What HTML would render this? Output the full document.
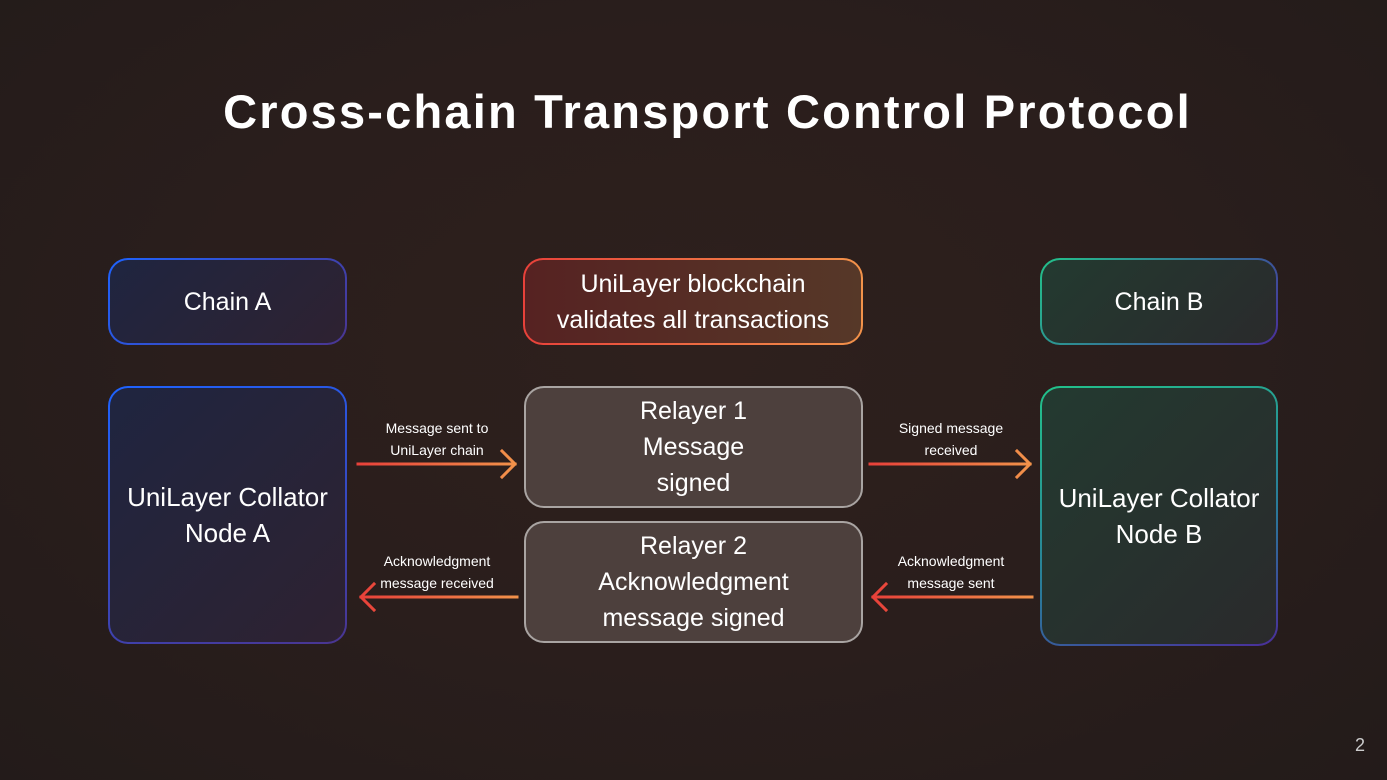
<!DOCTYPE html>
<html><head><meta charset="utf-8"><style>
*{margin:0;padding:0;box-sizing:border-box}
body{width:1387px;height:780px;overflow:hidden;font-family:"Liberation Sans",sans-serif;color:#fff;
background:radial-gradient(ellipse at 50% 45%,#2e201d 0%,#2a1e1c 50%,#231b1a 100%);position:relative}
.t{position:absolute;left:14px;width:1387px;top:84px;text-align:center;font-size:47px;font-weight:bold;letter-spacing:2.2px}
.b{position:absolute;border-radius:20px;display:flex;align-items:center;justify-content:center;text-align:center;font-size:25px;line-height:36px}
.g{position:absolute;border-radius:20px;padding:2px}
.g>div{width:100%;height:100%;border-radius:18px;display:flex;align-items:center;justify-content:center;text-align:center;font-size:25px;line-height:36px}
.big>div{font-size:26px}
.lbl{position:absolute;width:180px;text-align:center;font-size:14px;line-height:22px}
.pg{position:absolute;right:22px;top:735px;font-size:18px;color:#ccc}
</style></head><body>
<div class="t">Cross-chain Transport Control Protocol</div>

<div class="g" style="left:108px;top:258px;width:239px;height:87px;background:linear-gradient(135deg,#1e63ff,#4a3590)"><div style="background:linear-gradient(135deg,#1f2540,#2e2231)">Chain A</div></div>
<div class="g big" style="left:108px;top:386px;width:239px;height:258px;background:linear-gradient(160deg,#1e63ff,#4a3590)"><div style="background:linear-gradient(135deg,#1f2540,#2e2231)">UniLayer Collator<br>Node A</div></div>

<div class="g" style="left:523px;top:258px;width:340px;height:87px;background:linear-gradient(90deg,#e8413a,#f2924a)"><div style="background:linear-gradient(90deg,#562222,#563828)">UniLayer blockchain<br>validates all transactions</div></div>

<div class="b" style="left:524px;top:386px;width:339px;height:122px;background:#4d403d;border:2px solid #a9a4a2">Relayer 1<br>Message<br>signed</div>
<div class="b" style="left:524px;top:521px;width:339px;height:122px;background:#4d403d;border:2px solid #a9a4a2">Relayer 2<br>Acknowledgment<br>message signed</div>

<div class="g" style="left:1040px;top:258px;width:238px;height:87px;background:linear-gradient(135deg,#22c28a,#3a5a9a 70%,#4a2e9a)"><div style="background:linear-gradient(135deg,#233a30,#2a2a2c)">Chain B</div></div>
<div class="g big" style="left:1040px;top:386px;width:238px;height:260px;background:linear-gradient(160deg,#22c28a,#2a7a9a 60%,#4a2e9a)"><div style="background:linear-gradient(135deg,#233a30,#2a2a2c)">UniLayer Collator<br>Node B</div></div>

<div class="lbl" style="left:347px;top:417px">Message sent to<br>UniLayer chain</div>
<div class="lbl" style="left:347px;top:550px">Acknowledgment<br>message received</div>
<div class="lbl" style="left:861px;top:417px">Signed message<br>received</div>
<div class="lbl" style="left:861px;top:550px">Acknowledgment<br>message sent</div>

<svg width="1387" height="780" style="position:absolute;left:0;top:0">
<defs>
<linearGradient id="r" x1="0" x2="1"><stop offset="0" stop-color="#e8413a"/><stop offset="1" stop-color="#f2924a"/></linearGradient>
</defs>
<g fill="none" stroke-width="3" stroke-linecap="square">
<path d="M358 464H515M502 451L515 464L502 477" stroke="url(#r)"/>
<path d="M870 464H1030M1017 451L1030 464L1017 477" stroke="url(#r)"/>
<path d="M361 597H517M374 584L361 597L374 610" stroke="url(#r)"/>
<path d="M873 597H1032M886 584L873 597L886 610" stroke="url(#r)"/>
</g>
</svg>
<div class="pg">2</div>
</body></html>
